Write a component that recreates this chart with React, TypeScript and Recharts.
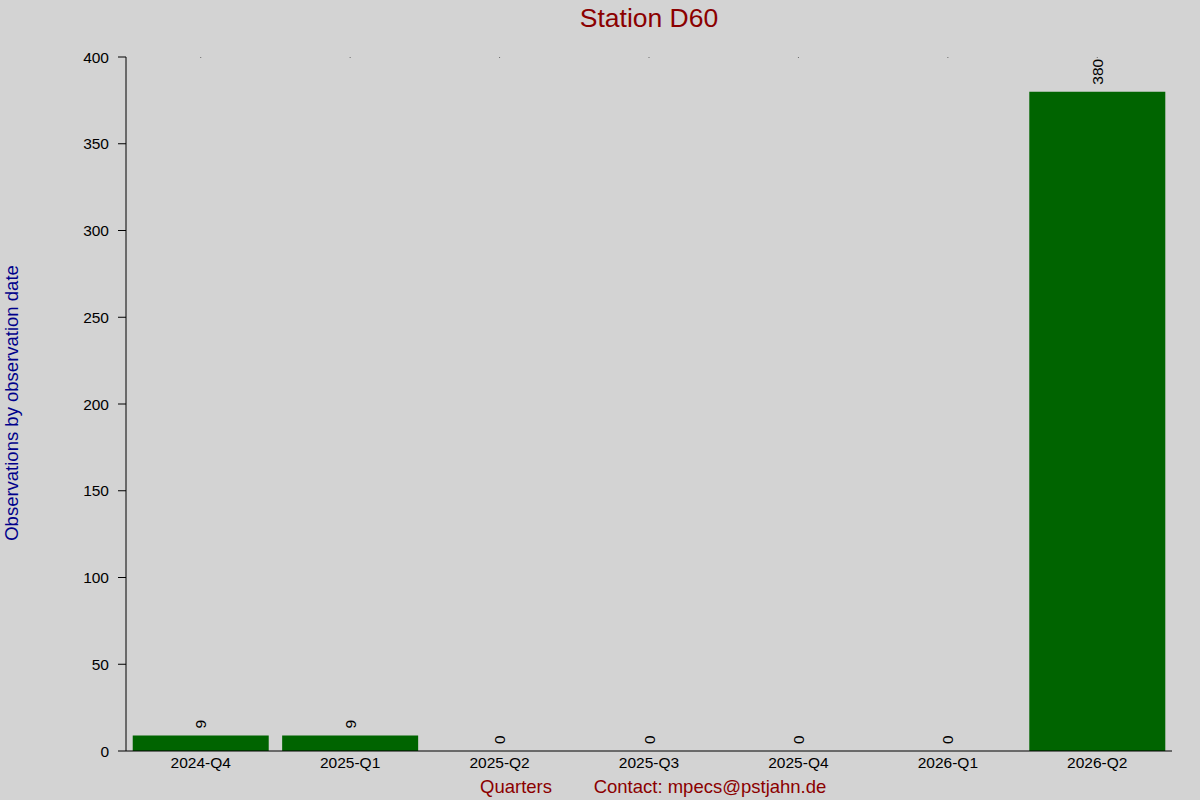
import React from 'react';
import { ComposedChart, Bar, XAxis, YAxis, Scatter, Customized } from 'recharts';

const quarters = ['2024-Q4', '2025-Q1', '2025-Q2', '2025-Q3', '2025-Q4', '2026-Q1', '2026-Q2'];
const observations = [9, 9, 0, 0, 0, 0, 380];
const topMarks = [400, 400, 400, 400, 400, 400, 400];
const yTicks = [0, 50, 100, 150, 200, 250, 300, 350, 400];

const data = quarters.map((q, i) => ({ q, v: observations[i], top: topMarks[i] }));

const FONT = 'Arial, "Liberation Sans", sans-serif';

const ValueLabel = (props: any) => {
  const { cx, cy, payload } = props;
  const ly = cy - 7;
  return (
    <text
      x={cx}
      y={ly}
      transform={`rotate(-90, ${cx}, ${ly})`}
      textAnchor="start"
      dominantBaseline="central"
      fontSize={15.5}
      fontFamily={FONT}
      fill="#000"
    >
      {payload.v}
    </text>
  );
};

const Dot = (props: any) => {
  const { cx, cy } = props;
  return <rect x={cx - 0.5} y={cy - 0.5} width={1} height={1} fill="#000" />;
};

const Texts = () => (
  <g fontFamily={FONT}>
    <text x={649} y={18} textAnchor="middle" dominantBaseline="central" fontSize={26.5} fill="#8B0000">
      Station D60
    </text>
    <text
      x={11}
      y={403}
      transform="rotate(-90, 11, 403)"
      textAnchor="middle"
      dominantBaseline="central"
      fontSize={18.5}
      fill="#00008B"
    >
      Observations by observation date
    </text>
    <text x={516} y={786} textAnchor="middle" dominantBaseline="central" fontSize={18.5} fill="#8B0000">
      Quarters
    </text>
    <text x={710} y={786} textAnchor="middle" dominantBaseline="central" fontSize={18.5} fill="#8B0000">
      Contact: mpecs@pstjahn.de
    </text>
  </g>
);

export default function App() {
  return (
    <div style={{ position: 'absolute', left: 0, top: 0, width: 1200, height: 800, background: '#d3d3d3' }}>
      <ComposedChart
        width={1200}
        height={800}
        data={data}
        margin={{ top: 57, right: 28, bottom: 0, left: 0 }}
        barCategoryGap="4.5%"
      >
        <XAxis
          dataKey="q"
          height={49}
          tickLine={false}
          tickSize={0}
          tickMargin={6}
          axisLine={{ stroke: '#000', strokeWidth: 1 }}
          tick={{ fill: '#000', fontSize: 15.5, fontFamily: FONT }}
          interval={0}
        />
        <YAxis
          width={126}
          domain={[0, 400]}
          ticks={yTicks}
          interval={0}
          tickSize={8}
          tickMargin={9}
          axisLine={{ stroke: '#000', strokeWidth: 1 }}
          tickLine={{ stroke: '#000', strokeWidth: 1 }}
          tick={{ fill: '#000', fontSize: 15.5, fontFamily: FONT }}
          allowDataOverflow
        />
        <Bar dataKey="v" fill="#006400" isAnimationActive={false} />
        <Scatter dataKey="v" shape={ValueLabel} isAnimationActive={false} />
        <Scatter dataKey="top" shape={Dot} isAnimationActive={false} />
        <Customized component={Texts} />
      </ComposedChart>
    </div>
  );
}
